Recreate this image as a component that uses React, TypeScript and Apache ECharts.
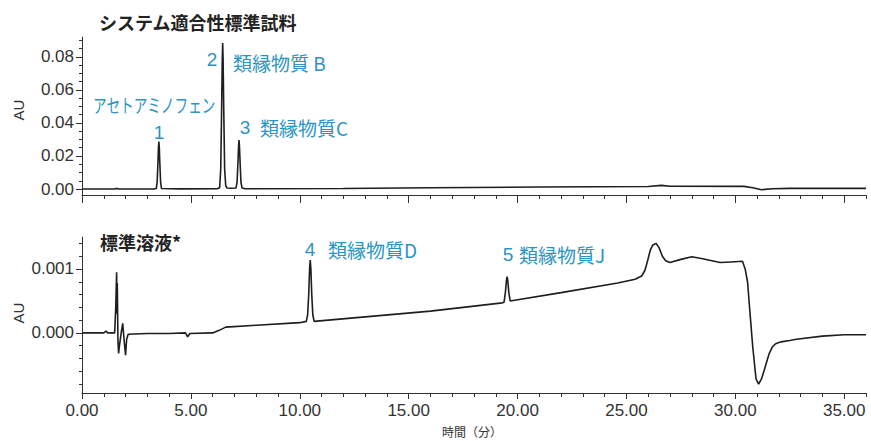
import React, { useEffect, useRef } from "react";
import * as echarts from "echarts";

// ---- data ----
const topTrace: [number, number][] = [
  [0, 0.0], [1.5, 0.0], [1.58, 0.0004], [1.68, 0.0], [3.3, 0.0],
  [3.41, 0.0003], [3.45, 0.004], [3.49, 0.017], [3.51, 0.025], [3.53, 0.0287],
  [3.55, 0.025], [3.57, 0.017], [3.61, 0.004], [3.65, 0.0003], [4.5, 0.0001],
  [6.2, 0.0002], [6.32, 0.0008], [6.37, 0.012], [6.41, 0.047], [6.44, 0.078],
  [6.46, 0.0883], [6.48, 0.078], [6.51, 0.047], [6.55, 0.012], [6.6, 0.002],
  [6.66, 0.0006], [6.85, 0.0005], [7.07, 0.0006], [7.12, 0.004], [7.16, 0.016],
  [7.19, 0.026], [7.21, 0.0297], [7.23, 0.026], [7.26, 0.016], [7.3, 0.004],
  [7.35, 0.0006], [7.5, 0.0002], [12, 0.0003], [16, 0.0008], [21, 0.0012],
  [26.0, 0.0015], [26.6, 0.0022], [27.0, 0.0017], [30.4, 0.0016], [30.8, 0.0008],
  [31.2, -0.0004], [31.7, 0.0002], [32.5, 0.0004], [36, 0.0004],
];

const bottomTrace: [number, number][] = [
  [0, 0.0], [1.0, 0.0], [1.1, 0.00003], [1.18, 0.0], [1.5, 0.0],
  [1.55, 0.0004], [1.59, 0.00095], [1.605, 0.0003], [1.62, 0.00078], [1.65, -0.0001],
  [1.68, -0.00032], [1.72, -0.0002], [1.8, 0.0], [1.87, 0.00015], [1.93, -0.0001],
  [2.0, -0.00035], [2.05, -0.0001], [2.12, -0.00002], [3.0, -0.00001], [4.0, -0.00001],
  [4.75, 0.0], [4.85, -0.00006], [4.95, -0.00001], [6.0, 0.0], [6.3, 0.00004],
  [6.6, 0.00009], [8.0, 0.00012], [10.0, 0.00016], [10.3, 0.00018], [10.36, 0.00028],
  [10.41, 0.0006], [10.45, 0.001], [10.48, 0.00114], [10.51, 0.001], [10.55, 0.0006],
  [10.6, 0.00028], [10.66, 0.00018], [13, 0.00025], [16, 0.00034], [19.3, 0.00047],
  [19.38, 0.00048], [19.44, 0.00063], [19.49, 0.00082], [19.52, 0.00088], [19.55, 0.00082],
  [19.6, 0.00063], [19.66, 0.0005], [22, 0.00063], [24.6, 0.00078], [25.4, 0.00084],
  [25.7, 0.00089], [25.85, 0.00098], [25.95, 0.0011], [26.1, 0.0013], [26.2, 0.00137],
  [26.36, 0.0014], [26.5, 0.00133], [26.65, 0.0012], [26.8, 0.00113], [27.0, 0.0011],
  [27.5, 0.00115], [28.0, 0.00119], [28.5, 0.00116], [29.3, 0.0011], [29.8, 0.00111],
  [30.33, 0.00112], [30.45, 0.001], [30.56, 0.0008], [30.7, 0.0002], [30.8, -0.00022],
  [30.95, -0.00072], [31.07, -0.0008], [31.2, -0.00072], [31.33, -0.00058], [31.45, -0.00044],
  [31.56, -0.00032], [31.7, -0.00022], [31.85, -0.00017], [32.1, -0.00014], [32.5, -0.00012],
  [32.8, -0.0001], [34, -0.00005], [35, -0.00003], [36, -0.00003],
];

const xMajorTicks = [0, 5, 10, 15, 20, 25, 30, 35];
const xMinorTicks = [1, 2, 3, 4, 6, 7, 8, 9, 11, 12, 13, 14, 16, 17, 18, 19, 21, 22, 23, 24, 26, 27, 28, 29, 31, 32, 33, 34, 36];
const topYMajor = [0, 0.02, 0.04, 0.06, 0.08];
const topYMinor = [0.005, 0.01, 0.015, 0.025, 0.03, 0.035, 0.045, 0.05, 0.055, 0.065, 0.07, 0.075, 0.085, 0.09];
const botYMajor = [0, 0.001];
const botYMinor = [-0.0008, -0.0006, -0.0004, -0.0002, 0.0002, 0.0004, 0.0006, 0.0008, 0.0012, 0.0014];

const FONT = "'Liberation Sans', Arial, 'Noto Sans CJK JP', sans-serif";
const CJK = "'Noto Sans CJK JP', 'Liberation Sans', sans-serif";
const LINE = "#333";
const BLUE = "#2b94c3";

const xAxisBase = (grid: number, labels: boolean, ticks: number[], len: number, line: boolean) => ({
  type: "value",
  gridIndex: grid,
  min: 0,
  max: 36,
  position: "bottom",
  axisLine: { show: line, onZero: false, lineStyle: { color: LINE, width: 1 } },
  axisTick: { show: true, customValues: ticks, length: len, lineStyle: { color: LINE, width: 1 } },
  axisLabel: labels
    ? { show: true, customValues: ticks, formatter: (v: number) => v.toFixed(2), color: "#333", fontSize: 17, fontFamily: FONT, margin: 9 }
    : { show: false },
  splitLine: { show: false },
});

const yAxisBase = (grid: number, min: number, max: number, ticks: number[], len: number, labels: boolean, digits: number, line: boolean) => ({
  type: "value",
  gridIndex: grid,
  min,
  max,
  position: "left",
  axisLine: { show: line, onZero: false, lineStyle: { color: LINE, width: 1 } },
  axisTick: { show: true, customValues: ticks, length: len, lineStyle: { color: LINE, width: 1 } },
  axisLabel: labels
    ? { show: true, customValues: ticks, formatter: (v: number) => v.toFixed(digits), color: "#333", fontSize: 17, fontFamily: FONT, margin: 8 }
    : { show: false },
  splitLine: { show: false },
});

const txt = (text: string, x: number, y: number, size: number, color: string, opts: any = {}) => ({
  type: "text",
  x,
  y,
  scaleX: opts.scaleX || 1,
  style: {
    text,
    fill: color,
    font: `${opts.bold ? "bold " : ""}${size}px ${opts.family || CJK}`,
    textAlign: opts.align || "left",
    textVerticalAlign: "middle",
  },
});

export default function App() {
  const ref = useRef<HTMLDivElement>(null);
  useEffect(() => {
    if (!ref.current) return;
    const chart = echarts.init(ref.current, undefined, { renderer: "svg" });
    chart.setOption({
      animation: false,
      backgroundColor: "#fff",
      grid: [
        { left: 82, top: 37, width: 784, height: 158 },
        { left: 82, top: 237, width: 784, height: 156 },
      ],
      xAxis: [
        xAxisBase(0, false, xMajorTicks, 8, true),
        xAxisBase(0, false, xMinorTicks, 4, false),
        xAxisBase(1, true, xMajorTicks, 6, true),
        xAxisBase(1, false, xMinorTicks, 4, false),
      ],
      yAxis: [
        yAxisBase(0, -0.0036, 0.092, topYMajor, 6, true, 2, true),
        yAxisBase(0, -0.0036, 0.092, topYMinor, 3, false, 2, false),
        yAxisBase(1, -0.00094, 0.0015, botYMajor, 6, true, 3, true),
        yAxisBase(1, -0.00094, 0.0015, botYMinor, 3, false, 3, false),
      ],
      series: [
        {
          type: "line",
          xAxisIndex: 0,
          yAxisIndex: 0,
          data: topTrace,
          showSymbol: false,
          lineStyle: { color: "#1e1e1e", width: 1.6 },
        },
        {
          type: "line",
          xAxisIndex: 2,
          yAxisIndex: 2,
          data: bottomTrace,
          showSymbol: false,
          lineStyle: { color: "#1e1e1e", width: 1.6 },
        },
      ],
      graphic: [
        txt("システム適合性標準試料", 99, 22, 18, "#222", { bold: true }),
        txt("標準溶液*", 100, 242, 18, "#222", { bold: true }),
        txt("アセトアミノフェン", 93, 105, 19, BLUE, { scaleX: 0.72 }),
        txt("1", 159, 132, 19, BLUE, { align: "center", family: FONT }),
        txt("2", 212, 59, 19, BLUE, { align: "center", family: FONT }),
        txt("類縁物質 B", 233, 62, 19, BLUE),
        txt("3", 245, 127, 19, BLUE, { align: "center", family: FONT }),
        txt("類縁物質C", 260, 127, 19, BLUE),
        txt("4", 310, 249, 19, BLUE, { align: "center", family: FONT }),
        txt("類縁物質D", 328, 249, 19, BLUE),
        txt("5", 508, 254, 19, BLUE, { align: "center", family: FONT }),
        txt("類縁物質J", 519, 254, 19, BLUE),
        {
          type: "text",
          x: 18,
          y: 110,
          rotation: Math.PI / 2,
          style: { text: "AU", fill: "#333", font: `15px ${FONT}`, textAlign: "center", textVerticalAlign: "middle" },
        },
        {
          type: "text",
          x: 18,
          y: 313,
          rotation: Math.PI / 2,
          style: { text: "AU", fill: "#333", font: `15px ${FONT}`, textAlign: "center", textVerticalAlign: "middle" },
        },
        txt("時間（分）", 472, 431, 12, "#333", { align: "center" }),
      ],
    });
    return () => chart.dispose();
  }, []);
  return <div ref={ref} style={{ position: "fixed", left: 0, top: 0, width: 871, height: 441 }} />;
}
